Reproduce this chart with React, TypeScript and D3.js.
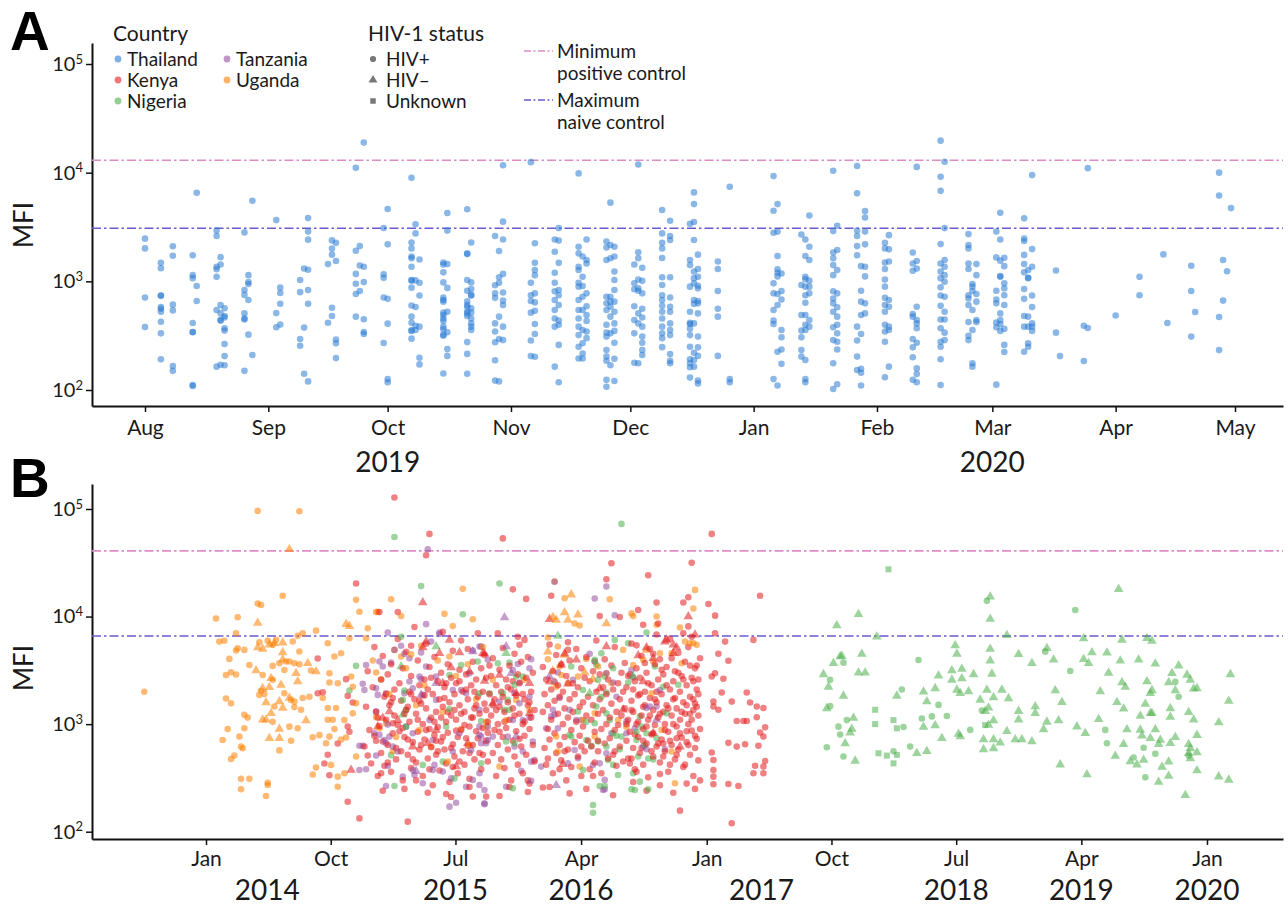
import React, { useRef, useEffect } from "react";
import * as d3 from "d3";

type Pt = [number, number];

// ---------- Panel A: Thailand, MFI per sampling day ----------
const thaiDates = [
  "2019-08-01", "2019-08-05", "2019-08-08", "2019-08-13", "2019-08-14", "2019-08-19", "2019-08-20", "2019-08-21",
  "2019-08-26", "2019-08-27", "2019-08-28", "2019-09-03", "2019-09-04", "2019-09-09", "2019-09-10", "2019-09-11",
  "2019-09-16", "2019-09-17", "2019-09-18", "2019-09-23", "2019-09-24", "2019-09-25", "2019-09-30", "2019-10-01",
  "2019-10-07", "2019-10-08", "2019-10-09", "2019-10-15", "2019-10-16", "2019-10-21", "2019-10-22", "2019-10-28",
  "2019-10-29", "2019-10-30", "2019-11-06", "2019-11-07", "2019-11-12", "2019-11-13", "2019-11-18", "2019-11-19",
  "2019-11-20", "2019-11-25", "2019-11-26", "2019-11-27", "2019-12-02", "2019-12-03", "2019-12-04", "2019-12-09",
  "2019-12-11", "2019-12-16", "2019-12-17", "2019-12-18", "2019-12-23", "2019-12-26", "2020-01-06", "2020-01-07",
  "2020-01-08", "2020-01-13", "2020-01-14", "2020-01-15", "2020-01-21", "2020-01-22", "2020-01-27", "2020-01-28",
  "2020-01-29", "2020-02-03", "2020-02-04", "2020-02-10", "2020-02-11", "2020-02-17", "2020-02-18", "2020-02-24",
  "2020-02-25", "2020-02-26", "2020-03-02", "2020-03-03", "2020-03-04", "2020-03-09", "2020-03-10", "2020-03-11",
  "2020-03-17", "2020-03-18", "2020-03-24", "2020-03-25", "2020-04-01", "2020-04-07", "2020-04-13", "2020-04-14",
  "2020-04-20", "2020-04-21", "2020-04-27", "2020-04-28", "2020-04-29", "2020-04-30",
];

const thaiMFI: number[][] = [
  [2470, 2010, 710, 380],
  [1480, 1320, 740, 735, 580, 560, 525, 425, 332, 192],
  [2100, 1720, 610, 540, 166, 150],
  [1740, 1140, 1070, 413, 342, 340, 111, 109],
  [6540, 905, 660],
  [2930, 2610, 1360, 1290, 1100, 545, 164],
  [1670, 1430, 605, 507, 440, 435, 171],
  [565, 480, 465, 370, 352, 265, 205, 169],
  [2820, 832, 750, 507, 455, 445, 150],
  [1140, 985, 945, 673, 323],
  [5520, 210],
  [3660, 510, 378],
  [875, 780, 622, 400],
  [1030, 795, 295, 255],
  [1310, 375, 141],
  [3820, 2870, 2420, 1280, 832, 622, 120],
  [1440, 416],
  [2380, 2000, 1760, 570, 480],
  [2260, 1540, 292, 269, 197],
  [11100, 1910, 1170, 950, 765, 473],
  [2110, 1400, 815],
  [18900, 1360, 985, 448, 342, 328],
  [3100, 1160, 1080, 710, 271],
  [4630, 2190, 690, 408, 126, 118],
  [8990, 2280, 2010, 1690, 1630, 1360, 1030, 1015, 875, 600, 473, 415, 355, 350, 297],
  [3350, 2760, 1020, 580, 390, 357],
  [1590, 970, 740, 383, 198, 172],
  [1490, 1430, 1210, 978, 710, 673, 650, 515, 490, 455, 432, 383, 362, 323, 316, 142],
  [4250, 2930, 1440, 870, 525, 340, 238, 206],
  [4600, 1800, 1790, 1030, 820, 655, 605, 584, 525, 507, 480, 276, 215, 141],
  [2280, 978, 850, 750, 740, 565, 515, 455, 410, 383, 357],
  [2610, 920, 775, 705, 410, 345, 275, 188, 122],
  [1900, 1090, 970, 473, 295, 120],
  [11700, 3540, 2430, 1170, 790, 665, 605, 383, 288],
  [12500, 970, 745, 660, 515, 285, 205],
  [2240, 1480, 1270, 1140, 775, 640, 535, 405, 328, 202],
  [2430, 1870, 1200, 970, 810, 673, 545, 455, 383, 164],
  [3090, 2370, 1480, 832, 745, 605, 435, 398, 260, 118],
  [9850, 2080, 1810, 1360, 1270, 970, 893, 673, 545, 455, 383, 320, 250, 195],
  [1690, 1100, 905, 722, 545, 357, 269, 217, 195],
  [2430, 1570, 1460, 775, 590, 490, 432, 345, 300],
  [2320, 2050, 1570, 722, 627, 545, 398, 337, 310, 233, 203, 186, 124, 107],
  [5300, 2160, 1630, 722, 650, 584, 473, 332, 169],
  [2080, 1690, 1230, 1030, 832, 650, 525, 410, 350, 272, 194, 121],
  [1430, 958, 845, 590, 440, 332, 178],
  [11900, 1850, 1630, 1040, 862, 820, 507, 410, 176],
  [1330, 1010, 775, 560, 465, 383, 310, 272, 233, 210],
  [4530, 2760, 2260, 2010, 1640, 1090, 925, 745, 673, 595, 525, 455, 383, 332, 300, 248],
  [3610, 2610, 2400, 1090, 710, 584, 525, 410, 357, 320, 214, 186, 176],
  [3380, 1570, 1410, 893, 525, 415, 405, 367, 320, 250, 192, 176, 162, 130],
  [6580, 5140, 3520, 2400, 1230, 1070, 958, 673, 620, 410, 220, 189, 164],
  [1760, 1300, 1100, 910, 862, 660, 627, 507, 310, 247, 206, 122, 115],
  [1520, 1300, 815, 560, 473, 206],
  [7420, 126, 118],
  [9300, 4460, 2800, 958, 775, 545, 435, 405, 126],
  [5140, 2870, 1710, 1290, 1200, 1110, 765, 605, 225, 110],
  [1180, 815, 680, 357, 305, 236, 174],
  [2700, 925, 490, 352, 305, 233, 203],
  [2430, 1710, 1100, 1045, 893, 745, 635, 490, 398, 357, 189, 126, 118],
  [4030, 2080, 1570, 1015, 893, 775, 440, 383],
  [10400, 2900, 1840, 1630, 1410, 1140, 810, 695, 627, 525, 378, 288, 176, 102],
  [3250, 1940, 1270, 775, 578, 473, 398, 332, 278, 236, 113],
  [11500, 6450, 2930, 2610, 2110, 1740, 383, 285, 203, 153],
  [1380, 820, 650, 490, 328, 157, 144, 110],
  [4430, 3870, 2870, 2190, 1360, 1110, 627, 507],
  [2260, 2010, 1490, 1300, 1040, 893, 705, 605, 525, 398, 345, 278, 131],
  [2660, 1970, 1520, 673, 584, 383, 357, 164],
  [1840, 1460, 1250, 500, 473, 295, 247, 200, 124],
  [11300, 1540, 1310, 584, 440, 410, 370, 272, 158, 140, 118],
  [19700, 9180, 6800, 2200, 1460, 1230, 1070, 880, 740, 595, 445, 370, 278, 250, 192, 111],
  [12600, 3090, 1570, 1360, 1140, 990, 722, 525, 445, 337, 288],
  [2720, 2160, 2010, 1460, 1300, 745, 695, 605, 422, 315, 288],
  [945, 893, 815, 545, 357, 176, 164],
  [1440, 1140, 765, 650, 440, 422],
  [2870, 1660, 820, 680, 627, 418, 378, 112],
  [4280, 2430, 1550, 1120, 1100, 507, 440, 405, 350],
  [1650, 1380, 958, 862, 745, 605, 365, 260, 224],
  [3800, 2480, 2350, 1750, 1440, 1210, 850, 690, 480, 383, 225],
  [1270, 1080, 1070, 473, 383, 269, 250],
  [9500, 1980, 1360, 740, 580, 410, 383, 350],
  [1260, 337],
  [205],
  [390, 185],
  [11000, 372],
  [485],
  [1100, 745],
  [1770],
  [413],
  [1390, 815, 310],
  [522],
  [10000, 6150, 470, 233],
  [1570, 665],
  [1240],
  [4720],
];

// ---------- Panel B: [sampling date as decimal year, MFI] ----------
const ugandaHivPos: Pt[] = [
  [2013.63, 2000], [2014.06, 9600], [2014.08, 5850], [2014.11, 5960], [2014.19, 9870], [2014.18, 7000], [2014.18, 4830],
  [2014.19, 5080], [2014.23, 4900], [2014.14, 4040], [2014.26, 3550], [2014.12, 2860], [2014.15, 3040], [2014.18, 2890],
  [2014.12, 1730], [2014.15, 1560], [2014.23, 1220], [2014.25, 1150], [2014.13, 900], [2014.10, 713], [2014.20, 766],
  [2014.23, 915], [2014.21, 618], [2014.22, 596], [2014.17, 510], [2014.15, 474], [2014.21, 310], [2014.26, 310],
  [2014.21, 248], [2014.37, 285], [2014.37, 272], [2014.36, 215], [2014.31, 13200], [2014.33, 12800], [2014.46, 15600],
  [2014.31, 96000], [2014.56, 95300], [2014.32, 5770], [2014.37, 5960], [2014.40, 5460], [2014.42, 6070], [2014.52, 5850],
  [2014.55, 6620], [2014.58, 7000], [2014.56, 4730], [2014.44, 3680], [2014.40, 3480], [2014.50, 3820], [2014.48, 3820],
  [2014.53, 3680], [2014.56, 3600], [2014.63, 3150], [2014.66, 7400], [2014.34, 2860], [2014.40, 2580], [2014.47, 3190],
  [2014.33, 2040], [2014.35, 1910], [2014.32, 1870], [2014.47, 1940], [2014.51, 1680], [2014.53, 1620], [2014.58, 1750],
  [2014.62, 1800], [2014.41, 1460], [2014.53, 1440], [2014.57, 1360], [2014.40, 1050], [2014.50, 948], [2014.55, 915],
  [2014.51, 700], [2014.44, 570], [2014.64, 755], [2014.73, 5650], [2014.77, 4250], [2014.81, 4560], [2014.74, 2970],
  [2014.74, 2440], [2014.79, 2400], [2014.70, 1750], [2014.73, 1410], [2014.78, 1410], [2014.73, 1100], [2014.76, 1100],
  [2014.77, 900], [2014.83, 1090], [2014.88, 1260], [2014.81, 720], [2014.84, 750], [2014.68, 790], [2014.74, 766],
  [2014.72, 664], [2014.90, 500], [2014.66, 395], [2014.64, 340], [2014.75, 418], [2014.79, 325], [2014.83, 349],
  [2014.79, 262], [2014.86, 6290], [2014.96, 6290], [2014.90, 14300], [2014.92, 11100], [2015.02, 11000], [2015.03, 11100],
  [2015.11, 14500], [2015.17, 10100], [2015.02, 3020], [2015.13, 4900], [2015.17, 4250], [2015.23, 4450], [2015.29, 5350],
  [2015.43, 10600], [2015.48, 8150], [2015.54, 18100], [2015.60, 9450], [2015.46, 4250], [2014.88, 2230], [2014.87, 2770],
  [2014.90, 1560], [2015.02, 1160], [2015.08, 1020], [2015.04, 915], [2015.05, 2600], [2015.10, 1900], [2015.14, 760],
  [2015.20, 3300], [2015.26, 1500], [2015.31, 2300], [2015.35, 620], [2015.39, 3900], [2015.42, 1300], [2015.50, 2800],
  [2015.53, 900], [2015.57, 3600], [2015.62, 1700], [2015.66, 5200], [2015.12, 560], [2015.28, 880], [2015.45, 450],
  [2015.58, 640], [2015.68, 1050], [2014.97, 7800], [2015.00, 3900], [2016.15, 14800], [2016.09, 21200], [2016.21, 8620],
  [2016.42, 14500], [2016.24, 8270], [2016.05, 6400], [2016.05, 4010], [2016.11, 5260], [2016.12, 3430], [2016.13, 2860],
  [2016.17, 2400], [2016.10, 2230], [2016.23, 2770], [2016.28, 4040], [2016.33, 3820], [2016.35, 3430], [2016.40, 2970],
  [2016.43, 2400], [2016.50, 4900], [2016.55, 10700], [2016.56, 10100], [2016.70, 10000], [2016.70, 8400], [2016.84, 7900],
  [2016.85, 3680], [2016.90, 5650], [2016.92, 5650], [2016.92, 11900], [2016.93, 17700], [2016.94, 5460], [2016.87, 5850],
  [2016.62, 3960], [2016.56, 3550], [2016.72, 4560], [2016.68, 3820], [2016.79, 4560], [2016.67, 1940], [2016.10, 766],
  [2016.11, 556], [2016.26, 1090], [2016.33, 1260], [2016.33, 766], [2016.47, 1090], [2016.52, 948], [2016.73, 884],
  [2016.79, 556], [2016.81, 282], [2016.24, 403], [2015.68, 948], [2015.80, 1090], [2015.86, 1680], [2015.91, 2580],
  [2015.94, 1360], [2015.76, 403], [2015.72, 2580],
];

const ugandaHivNeg: Pt[] = [
  [2014.50, 42300], [2014.31, 8700], [2014.31, 5150], [2014.34, 4990], [2014.38, 5460], [2014.41, 5650], [2014.46, 5720],
  [2014.46, 4640], [2014.46, 3960], [2014.61, 3680], [2014.66, 3080], [2014.30, 3150], [2014.39, 2670], [2014.54, 2970],
  [2014.55, 2490], [2014.45, 2310], [2014.38, 2200], [2014.34, 2150], [2014.50, 1750], [2014.36, 1590], [2014.44, 1620],
  [2014.46, 1410], [2014.39, 1260], [2014.36, 1100], [2014.34, 1100], [2014.60, 1080], [2014.44, 900], [2014.44, 740],
  [2014.38, 740], [2014.84, 8500], [2014.86, 8150], [2016.19, 16000], [2016.08, 9870], [2016.10, 9300], [2016.15, 10900],
  [2016.17, 9300], [2016.23, 10400], [2016.40, 8620], [2016.05, 4700], [2016.15, 4400], [2016.09, 2440], [2016.27, 3020],
  [2016.08, 3130], [2016.32, 2620], [2016.64, 4900],
];

const kenyaHivPos: Pt[] = [
  [2014.67, 4070], [2014.70, 1980], [2014.67, 1940], [2014.84, 2620], [2014.85, 1830], [2014.88, 1590], [2014.85, 950],
  [2014.86, 850], [2014.79, 660], [2014.73, 520], [2014.71, 430], [2014.74, 335], [2014.85, 190], [2014.92, 133],
  [2014.90, 20300], [2015.04, 11000], [2015.15, 11000], [2015.23, 5350], [2015.34, 58700], [2015.13, 128000],
  [2015.32, 37200], [2015.21, 124], [2015.44, 224], [2015.60, 212],
  // 2015 cluster
  [2014.95, 620], [2014.96, 1450], [2014.97, 3100], [2014.98, 880], [2014.99, 430], [2015.00, 2200], [2015.01, 5200],
  [2015.02, 700], [2015.02, 1300], [2015.03, 330], [2015.04, 960], [2015.05, 2600], [2015.05, 540], [2015.06, 4300],
  [2015.07, 1800], [2015.07, 410], [2015.08, 1100], [2015.09, 2900], [2015.09, 640], [2015.10, 1500], [2015.11, 360],
  [2015.11, 3600], [2015.12, 820], [2015.13, 2100], [2015.13, 1200], [2015.14, 470], [2015.15, 6200], [2015.15, 980],
  [2015.16, 2400], [2015.17, 560], [2015.17, 1650], [2015.18, 300], [2015.18, 3300], [2015.19, 760], [2015.20, 1350],
  [2015.20, 4700], [2015.21, 520], [2015.22, 2000], [2015.22, 1050], [2015.23, 390], [2015.23, 2800], [2015.24, 680],
  [2015.25, 1700], [2015.25, 8000], [2015.26, 440], [2015.26, 1250], [2015.27, 3900], [2015.27, 850], [2015.28, 2300],
  [2015.28, 580], [2015.29, 1550], [2015.30, 330], [2015.30, 1000], [2015.31, 2600], [2015.31, 720], [2015.32, 5600],
  [2015.32, 1400], [2015.33, 480], [2015.33, 2100], [2015.34, 900], [2015.34, 3400], [2015.35, 610], [2015.35, 1150],
  [2015.36, 270], [2015.36, 1900], [2015.37, 790], [2015.37, 4200], [2015.38, 1300], [2015.38, 520], [2015.39, 2500],
  [2015.39, 940], [2015.40, 1700], [2015.40, 370], [2015.41, 3000], [2015.41, 690], [2015.42, 1450], [2015.42, 7200],
  [2015.43, 580], [2015.43, 2200], [2015.44, 1050], [2015.44, 430], [2015.45, 3600], [2015.45, 830], [2015.46, 1600],
  [2015.46, 290], [2015.47, 2700], [2015.47, 1200], [2015.48, 650], [2015.48, 4800], [2015.49, 1900], [2015.49, 500],
  [2015.50, 1100], [2015.50, 2400], [2015.51, 760], [2015.51, 350], [2015.52, 3200], [2015.52, 1500], [2015.53, 880],
  [2015.53, 6000], [2015.54, 560], [2015.54, 2000], [2015.55, 1300], [2015.55, 420], [2015.56, 2900], [2015.56, 740],
  [2015.57, 1700], [2015.57, 5000], [2015.58, 950], [2015.58, 310], [2015.59, 2300], [2015.59, 1150], [2015.60, 640],
  [2015.60, 3800], [2015.61, 1400], [2015.61, 470], [2015.62, 2600], [2015.62, 860], [2015.63, 1800], [2015.63, 7000],
  [2015.64, 540], [2015.64, 1250], [2015.65, 3300], [2015.65, 380], [2015.66, 2000], [2015.66, 920], [2015.67, 1550],
  [2015.67, 4400], [2015.68, 700], [2015.68, 2700], [2015.69, 1050], [2015.69, 450], [2015.70, 1900], [2015.70, 3500],
  [2015.06, 240], [2015.19, 250], [2015.33, 230], [2015.47, 210], [2015.58, 260], [2015.12, 1750], [2015.28, 1650],
  [2015.41, 1150], [2015.53, 1250], [2015.35, 2700], [2015.49, 1350], [2015.62, 1500], [2015.21, 1450], [2015.08, 1900],
  [2015.44, 2400], [2015.56, 2100], [2015.31, 1850],
  [2014.97, 510], [2015.01, 780], [2015.03, 1150], [2015.06, 690], [2015.09, 440], [2015.12, 1020], [2015.14, 600],
  [2015.16, 860], [2015.19, 1250], [2015.21, 720], [2015.24, 470], [2015.27, 1100], [2015.29, 640], [2015.32, 880],
  [2015.34, 380], [2015.37, 1050], [2015.39, 560], [2015.42, 760], [2015.45, 1300], [2015.47, 600], [2015.50, 870],
  [2015.52, 450], [2015.55, 980], [2015.57, 630], [2015.60, 1150], [2015.63, 740], [2015.66, 520], [2015.69, 830],
  [2015.05, 350], [2015.18, 920], [2015.26, 300], [2015.38, 700], [2015.48, 400], [2015.58, 540], [2015.68, 1350],
  [2015.11, 1600], [2015.23, 1900], [2015.43, 1750], [2015.61, 2000], [2015.52, 2500],
  [2015.71, 1200], [2015.71, 2800], [2015.72, 540], [2015.72, 4100], [2015.73, 880], [2015.73, 1700], [2015.74, 330],
  [2015.74, 2300], [2015.75, 1000], [2015.75, 640], [2015.76, 3200], [2015.76, 1450], [2015.77, 470], [2015.77, 2000],
  [2015.78, 760], [2015.78, 5100], [2015.79, 1300], [2015.79, 390], [2015.80, 2600], [2015.80, 920], [2015.81, 1600],
  [2015.81, 580], [2015.82, 3500], [2015.82, 1100], [2015.83, 300], [2015.83, 2100], [2015.84, 700], [2015.84, 1400],
  [2015.85, 4500], [2015.85, 500], [2015.86, 1850], [2015.86, 860], [2015.87, 2900], [2015.87, 420], [2015.88, 1250],
  [2015.88, 2400], [2015.89, 620], [2015.89, 3800], [2015.90, 1000], [2015.90, 350], [2015.91, 1700], [2015.91, 780],
  [2015.92, 2700], [2015.92, 520], [2015.93, 1500], [2015.93, 4200], [2015.94, 900], [2015.94, 280], [2015.95, 2000],
  [2015.95, 1150], [2015.96, 640], [2015.96, 3000], [2015.97, 1350], [2015.97, 450], [2015.72, 1500], [2015.78, 1800],
  [2015.84, 2500], [2015.90, 1900], [2015.75, 7000], [2015.87, 6500], [2015.82, 260], [2015.93, 300], [2015.79, 1050],
  [2015.85, 1200], [2015.76, 850], [2015.88, 730], [2015.81, 2200], [2015.94, 1600], [2015.74, 1350], [2015.91, 1050],
  // 2016 cluster
  [2016.02, 1300], [2016.02, 3400], [2016.03, 600], [2016.03, 1900], [2016.04, 420], [2016.04, 2600], [2016.05, 900],
  [2016.05, 1500], [2016.06, 5500], [2016.06, 720], [2016.07, 2100], [2016.07, 1100], [2016.08, 350], [2016.08, 3100],
  [2016.09, 820], [2016.09, 1650], [2016.10, 4400], [2016.10, 540], [2016.11, 1250], [2016.11, 2300], [2016.12, 640],
  [2016.12, 1800], [2016.13, 3600], [2016.13, 460], [2016.14, 1000], [2016.14, 2000], [2016.15, 760], [2016.15, 1400],
  [2016.16, 300], [2016.16, 2800], [2016.17, 1150], [2016.17, 580], [2016.18, 1700], [2016.18, 3900], [2016.19, 880],
  [2016.19, 400], [2016.20, 2400], [2016.20, 1300], [2016.21, 680], [2016.21, 1900], [2016.22, 5000], [2016.22, 1050],
  [2016.23, 500], [2016.23, 2200], [2016.24, 780], [2016.24, 1450], [2016.25, 3300], [2016.25, 330], [2016.26, 1600],
  [2016.26, 950], [2016.27, 2700], [2016.27, 560], [2016.28, 1200], [2016.28, 4200], [2016.29, 700], [2016.29, 1800],
  [2016.30, 380], [2016.30, 2500], [2016.31, 1100], [2016.31, 620], [2016.32, 3100], [2016.32, 1500], [2016.33, 850],
  [2016.33, 440], [2016.34, 2000], [2016.34, 6000], [2016.35, 1250], [2016.35, 560], [2016.36, 1700], [2016.36, 2900],
  [2016.37, 900], [2016.37, 350], [2016.38, 2200], [2016.38, 1350], [2016.39, 660], [2016.39, 4000], [2016.40, 1000],
  [2016.40, 1900], [2016.41, 480], [2016.41, 2600], [2016.42, 1150], [2016.42, 740], [2016.43, 3500], [2016.43, 1550],
  [2016.44, 520], [2016.44, 2100], [2016.45, 880], [2016.45, 5200], [2016.46, 1300], [2016.46, 410], [2016.47, 2400],
  [2016.47, 980], [2016.48, 1700], [2016.48, 620], [2016.49, 3000], [2016.49, 1200], [2016.50, 450], [2016.50, 2000],
  [2016.06, 260], [2016.28, 250], [2016.05, 480], [2016.15, 560], [2016.25, 620], [2016.35, 700], [2016.45, 560],
  [2016.12, 380], [2016.32, 330],
  [2016.51, 1400], [2016.51, 3700], [2016.52, 700], [2016.52, 2200], [2016.53, 480], [2016.53, 1100], [2016.54, 2900],
  [2016.54, 850], [2016.55, 1650], [2016.55, 5600], [2016.56, 600], [2016.56, 1300], [2016.57, 2500], [2016.57, 380],
  [2016.58, 1000], [2016.58, 3300], [2016.59, 760], [2016.59, 1850], [2016.60, 540], [2016.60, 2700], [2016.61, 1200],
  [2016.61, 4300], [2016.62, 900], [2016.62, 420], [2016.63, 2000], [2016.63, 1500], [2016.64, 660], [2016.64, 3000],
  [2016.65, 1100], [2016.65, 320], [2016.66, 1750], [2016.66, 5000], [2016.67, 800], [2016.67, 2300], [2016.68, 1350],
  [2016.68, 500], [2016.69, 3600], [2016.69, 980], [2016.70, 1600], [2016.70, 620], [2016.71, 2600], [2016.71, 1150],
  [2016.72, 440], [2016.72, 4000], [2016.73, 1900], [2016.73, 720], [2016.74, 1300], [2016.74, 2900], [2016.75, 560],
  [2016.75, 1000], [2016.76, 3400], [2016.76, 1500], [2016.77, 850], [2016.77, 360], [2016.78, 2100], [2016.78, 6200],
  [2016.79, 1200], [2016.79, 640], [2016.80, 2500], [2016.80, 1700], [2016.81, 470], [2016.81, 3100], [2016.82, 950],
  [2016.82, 1400], [2016.83, 4600], [2016.83, 580], [2016.84, 2000], [2016.84, 1100], [2016.85, 750], [2016.85, 2800],
  [2016.86, 1600], [2016.86, 400], [2016.87, 3800], [2016.87, 1250], [2016.88, 680], [2016.88, 2300], [2016.89, 1000],
  [2016.89, 5200], [2016.90, 520], [2016.90, 1800], [2016.91, 2700], [2016.91, 870], [2016.92, 1350], [2016.92, 330],
  [2016.93, 3300], [2016.93, 1550], [2016.94, 730], [2016.94, 2100], [2016.95, 460], [2016.95, 1200], [2016.96, 4100],
  [2016.96, 900], [2016.95, 1900], [2016.94, 1450], [2016.93, 600], [2016.92, 2500], [2016.91, 1100], [2016.90, 3500],
  [2016.89, 640], [2016.88, 1500], [2016.87, 420], [2016.86, 2600], [2016.85, 1300], [2016.84, 820], [2016.83, 3000],
  [2016.82, 520], [2016.81, 1750], [2016.80, 1000], [2016.79, 4100], [2016.78, 700], [2016.77, 1400], [2016.76, 2300],
  [2016.75, 880], [2016.74, 500], [2016.73, 3200], [2016.72, 1250], [2016.71, 660], [2016.70, 2000], [2016.69, 1700],
  [2016.68, 4500], [2016.67, 560], [2016.66, 1200], [2016.65, 2400], [2016.64, 950], [2016.63, 3700], [2016.62, 1450],
  [2016.61, 600], [2016.60, 1900], [2016.59, 1050], [2016.58, 5400], [2016.57, 800], [2016.56, 2100], [2016.55, 1350],
  [2016.54, 430], [2016.53, 2800], [2016.52, 1000], [2016.96, 300], [2016.93, 250], [2016.88, 280], [2016.80, 230],
  [2016.72, 270], [2016.64, 240], [2016.56, 290], [2016.91, 6500], [2016.86, 7000], [2016.70, 6800], [2016.95, 2600],
  [2016.94, 3500], [2016.92, 1700], [2016.90, 1250], [2016.55, 480], [2016.62, 700], [2016.68, 820], [2016.74, 660],
  [2016.82, 740], [2016.88, 860], [2016.93, 780], [2016.58, 360], [2016.78, 420],
  // high and low outliers
  [2015.78, 53300], [2015.84, 17900], [2015.92, 14600], [2016.07, 15600], [2016.43, 31300], [2016.40, 22200],
  [2016.65, 24200], [2016.91, 31700], [2016.89, 15100], [2016.86, 13500], [2016.70, 13500], [2016.59, 11500],
  [2016.36, 10100], [2016.48, 9900], [2016.62, 8400], [2016.71, 8600], [2016.89, 8100], [2015.88, 5460], [2015.91, 6070],
  [2016.17, 5770], [2016.17, 4900], [2016.84, 157], [2016.72, 343], [2016.44, 218], [2016.18, 227], [2016.02, 258],
  [2015.93, 234], [2015.76, 215], [2015.68, 212],
  // 2017
  [2017.01, 13100], [2017.05, 10200], [2017.05, 7000], [2017.11, 5850], [2017.13, 3890], [2017.07, 4510], [2017.03, 2770],
  [2017.05, 2970], [2017.10, 2640], [2017.04, 1620], [2017.04, 1460], [2017.07, 1360], [2017.09, 1970], [2017.15, 1620],
  [2017.24, 1970], [2017.26, 1590], [2017.30, 1460], [2017.34, 1410], [2017.18, 1070], [2017.22, 1070], [2017.24, 1070],
  [2017.30, 1160], [2017.35, 935], [2017.32, 835], [2017.34, 766], [2017.31, 630], [2017.35, 455], [2017.34, 403],
  [2017.29, 410], [2017.28, 349], [2017.34, 349], [2017.13, 670], [2017.18, 618], [2017.23, 650], [2017.03, 545],
  [2017.04, 464], [2017.04, 375], [2017.04, 325], [2017.04, 276], [2017.13, 278], [2017.19, 266], [2017.15, 120],
  [2017.32, 15600], [2017.28, 6070], [2017.03, 58700],
];

const kenyaHivNeg: Pt[] = [
  [2014.87, 375], [2015.30, 13500], [2015.30, 5150], [2015.32, 5850], [2015.46, 6070], [2015.40, 4560], [2015.52, 4640],
  [2015.47, 3360], [2015.58, 3080], [2015.66, 4560], [2015.42, 2400], [2015.38, 884], [2015.50, 403], [2015.57, 664],
  [2015.33, 664], [2015.24, 618], [2015.06, 1140], [2015.03, 948], [2015.15, 1090], [2015.10, 1310], [2015.67, 4510],
  [2015.76, 2860], [2015.67, 2520], [2015.72, 1560], [2015.94, 2400], [2015.94, 1260], [2015.86, 1940], [2016.06, 9450],
  [2016.13, 3550], [2016.15, 4510], [2016.14, 425], [2016.17, 2370], [2016.22, 3960], [2016.40, 5260], [2016.62, 2490],
  [2016.59, 4340], [2016.64, 5150], [2016.68, 4100], [2016.75, 5850], [2016.76, 6070], [2016.80, 5460], [2016.82, 5150],
  [2016.80, 4560], [2016.89, 10000], [2016.93, 6770], [2016.06, 2490], [2016.36, 2150], [2016.50, 1360], [2016.68, 823],
  [2016.84, 618],
];

const tanzaniaHivPos: Pt[] = [
  [2015.09, 7100], [2015.32, 8500], [2015.33, 42300], [2014.96, 3550], [2015.04, 3820], [2015.06, 3430], [2015.11, 3740],
  [2015.13, 4900], [2015.17, 5350], [2015.19, 4500], [2015.22, 4090], [2015.22, 2490], [2015.24, 2150], [2015.29, 4640],
  [2015.32, 3430], [2015.40, 6880], [2015.35, 5850], [2015.40, 7100], [2015.60, 4830], [2015.65, 5260], [2015.69, 3960],
  [2015.65, 766], [2015.69, 948], [2014.94, 2370], [2014.95, 2080], [2015.02, 2150], [2015.03, 1870], [2015.08, 1940],
  [2015.19, 1940], [2015.29, 2620], [2015.30, 1870], [2015.38, 2770], [2015.48, 2080], [2015.53, 2080], [2015.56, 1940],
  [2015.64, 1360], [2015.02, 1310], [2015.09, 990], [2015.10, 766], [2015.01, 823], [2015.04, 795], [2015.07, 713],
  [2015.12, 618], [2015.15, 556], [2015.08, 664], [2015.02, 510], [2015.09, 410], [2015.08, 266], [2015.18, 325],
  [2015.24, 375], [2015.25, 337], [2015.30, 282], [2015.36, 375], [2015.37, 418], [2015.42, 362], [2015.47, 313],
  [2015.50, 186], [2015.46, 171], [2015.56, 262], [2015.60, 303], [2015.64, 272], [2015.67, 184], [2014.92, 375],
  [2014.96, 381], [2014.92, 630], [2014.94, 630], [2015.36, 713], [2015.48, 556], [2015.59, 575], [2015.52, 823],
  [2015.20, 948], [2015.24, 823], [2015.34, 1090], [2015.38, 1680], [2015.69, 713], [2015.58, 2970], [2015.64, 948],
  [2015.28, 2770], [2016.09, 21100], [2016.40, 19000], [2016.33, 14700], [2016.45, 10300], [2015.64, 5260],
  [2015.95, 4010], [2015.94, 3310], [2015.84, 3190], [2015.88, 2440], [2015.87, 3620], [2015.85, 1940], [2015.76, 1620],
  [2015.94, 1800], [2015.88, 1560], [2015.84, 1090], [2015.90, 1090], [2015.94, 1150], [2015.81, 766], [2015.72, 766],
  [2015.65, 664], [2015.68, 664], [2015.85, 618], [2015.90, 556], [2015.95, 448], [2015.89, 369], [2015.95, 298],
  [2015.80, 262], [2015.67, 244], [2015.67, 180], [2016.09, 2490], [2016.11, 3020], [2016.12, 1750], [2016.08, 1360],
  [2016.09, 1220], [2016.11, 915], [2016.18, 1360], [2016.22, 1090], [2016.25, 1090], [2016.20, 2580], [2016.30, 4500],
  [2016.33, 3820], [2016.40, 2970], [2016.44, 2440], [2016.46, 1800], [2016.55, 3190], [2016.56, 2720], [2016.72, 2080],
  [2016.70, 1460], [2016.66, 1460], [2016.64, 1410], [2016.57, 915], [2016.52, 1060], [2016.43, 823], [2016.40, 536],
  [2016.36, 432], [2016.32, 418], [2016.23, 482], [2016.21, 575], [2016.17, 432], [2016.39, 303], [2016.39, 248],
  [2016.38, 244], [2016.62, 618], [2016.64, 585], [2016.75, 585], [2016.52, 823], [2015.96, 690], [2015.97, 464],
  [2016.01, 403], [2016.04, 915], [2016.07, 1180], [2015.64, 795], [2015.64, 349],
];

const tanzaniaHivNeg: Pt[] = [
  [2015.26, 365], [2015.29, 1870], [2015.60, 4730], [2015.79, 9800], [2015.80, 5260], [2015.83, 2970], [2015.86, 766],
  [2016.06, 2770], [2016.10, 270], [2015.38, 2400], [2016.70, 1100],
];

const nigeriaHivPos: Pt[] = [
  [2015.13, 55000], [2015.29, 19200], [2015.54, 10500], [2015.17, 6500], [2014.90, 3480], [2014.86, 2050], [2015.19, 2050],
  [2015.18, 1680], [2015.20, 1360], [2015.46, 1380], [2015.53, 3550], [2015.63, 3820], [2015.65, 1070], [2015.44, 948],
  [2015.65, 432], [2015.11, 515], [2015.13, 266], [2015.20, 948], [2015.49, 313], [2015.30, 418], [2015.42, 448],
  [2015.46, 2860], [2016.49, 72700], [2015.76, 20300], [2016.64, 7100], [2016.45, 6070], [2016.53, 5650], [2016.37, 4560],
  [2016.34, 3550], [2016.33, 3960], [2016.44, 3310], [2016.39, 2770], [2016.35, 2580], [2016.40, 1970], [2016.37, 1800],
  [2016.34, 1460], [2016.40, 1260], [2016.42, 1090], [2016.44, 823], [2016.33, 1020], [2016.28, 1050], [2016.28, 713],
  [2016.31, 630], [2016.35, 690], [2016.40, 618], [2016.46, 780], [2016.49, 766], [2016.48, 585], [2016.41, 464],
  [2016.44, 418], [2016.60, 1180], [2016.58, 850], [2016.61, 948], [2016.58, 713], [2016.64, 823], [2016.68, 470],
  [2016.65, 480], [2016.59, 500], [2016.63, 640], [2016.56, 349], [2016.60, 292], [2016.55, 248], [2016.57, 244],
  [2016.65, 248], [2016.47, 337], [2016.36, 266], [2016.39, 266], [2016.32, 177], [2016.32, 150], [2015.85, 2320],
  [2015.86, 2770], [2015.90, 2770], [2015.82, 3740], [2015.75, 3680], [2015.80, 690], [2015.85, 664], [2015.84, 253],
  [2015.79, 1360], [2015.81, 1680], [2015.82, 1360], [2015.78, 1940], [2015.70, 1940], [2015.64, 1940], [2016.19, 766],
  [2016.18, 795], [2016.69, 3430], [2016.74, 2230], [2016.76, 1260], [2016.70, 740], [2016.83, 2320], [2016.53, 2440],
  [2016.23, 1310], [2016.19, 3430], [2016.26, 375], [2016.26, 2080],
  // 2017-2020
  [2017.82, 3730], [2017.79, 948], [2017.80, 800], [2017.84, 1090], [2017.72, 610], [2017.82, 500], [2017.74, 2580],
  [2017.74, 1470], [2018.27, 3940], [2018.17, 2100], [2018.18, 940], [2018.12, 560], [2018.22, 618], [2018.29, 1130],
  [2018.35, 1180], [2018.44, 1190], [2018.39, 1510], [2018.58, 884], [2018.65, 1340], [2018.68, 14000], [2019.03, 4720],
  [2019.18, 3120], [2019.21, 11500], [2019.39, 884], [2019.40, 664], [2019.56, 490], [2019.62, 604], [2019.69, 530],
  [2019.63, 320], [2019.81, 2470], [2019.83, 1800], [2019.89, 510],
];

const nigeriaHivNeg: Pt[] = [
  [2015.38, 5260], [2015.18, 1220], [2015.17, 3430], [2016.11, 6600], [2015.80, 4560], [2016.56, 2770], [2016.30, 1940],
  [2017.70, 2900], [2017.72, 1400], [2017.73, 2220], [2017.76, 3680], [2017.80, 4250], [2017.81, 4300], [2017.82, 1830],
  [2017.86, 830], [2017.88, 1140], [2017.78, 8270], [2017.91, 10500], [2017.93, 4480], [2017.91, 3000], [2017.95, 3000],
  [2017.83, 660], [2017.89, 455], [2018.02, 6500], [2017.87, 900], [2018.14, 1830], [2018.26, 536], [2018.32, 560],
  [2018.30, 2000], [2018.32, 1620], [2018.37, 2150], [2018.39, 2820], [2018.37, 970], [2018.30, 940], [2018.41, 740],
  [2018.47, 3150], [2018.47, 2580], [2018.49, 5380], [2018.50, 4500], [2018.53, 3250], [2018.53, 2660], [2018.50, 2080],
  [2018.52, 1940], [2018.57, 2010], [2018.60, 2900], [2018.51, 810], [2018.52, 766], [2018.64, 1680], [2018.67, 1320],
  [2018.69, 1420], [2018.68, 2080], [2018.70, 15300], [2018.70, 9500], [2018.70, 5000], [2018.70, 3890], [2018.71, 2930],
  [2018.72, 1770], [2018.72, 1080], [2018.69, 980], [2018.66, 720], [2018.66, 580], [2018.72, 720], [2018.72, 595],
  [2018.77, 2080], [2018.81, 1730], [2018.80, 6700], [2018.76, 670], [2018.80, 860], [2018.87, 4460], [2018.87, 1320],
  [2018.87, 1100], [2018.85, 720], [2018.89, 720], [2018.95, 3680], [2018.95, 690], [2018.97, 1460], [2018.97, 1260],
  [2019.02, 890], [2019.04, 1050], [2019.04, 5080], [2019.08, 3960], [2019.09, 2050], [2019.11, 1080], [2019.13, 1600],
  [2019.12, 420], [2019.22, 948], [2019.26, 4010], [2019.26, 6240], [2019.27, 823], [2019.28, 340], [2019.29, 3680],
  [2019.31, 4640], [2019.35, 1110], [2019.36, 2010], [2019.40, 4600], [2019.41, 2990], [2019.47, 18000], [2019.48, 3890],
  [2019.49, 6070], [2019.49, 2440], [2019.51, 2210], [2019.46, 1600], [2019.50, 1390], [2019.52, 890], [2019.50, 650],
  [2019.45, 505], [2019.54, 450], [2019.58, 420], [2019.59, 3970], [2019.60, 1190], [2019.60, 884], [2019.61, 780],
  [2019.62, 464], [2019.63, 1540], [2019.64, 2490], [2019.66, 1940], [2019.67, 2060], [2019.64, 6280], [2019.67, 5940],
  [2019.69, 3640], [2019.66, 1260], [2019.67, 1260], [2019.69, 890], [2019.66, 740], [2019.72, 713], [2019.71, 650],
  [2019.73, 400], [2019.71, 290], [2019.77, 330], [2019.77, 447], [2019.78, 664], [2019.78, 1165], [2019.78, 1400],
  [2019.79, 2970], [2019.77, 2440], [2019.81, 2060], [2019.81, 755], [2019.83, 3500], [2019.88, 2870], [2019.89, 1290],
  [2019.90, 2580], [2019.92, 2130], [2019.94, 2150], [2019.92, 1100], [2019.94, 790], [2019.89, 650], [2019.90, 595],
  [2019.89, 536], [2019.94, 545], [2019.90, 480], [2019.94, 370], [2019.87, 218], [2020.07, 1035], [2020.07, 325],
  [2020.13, 1640], [2020.14, 2900], [2020.13, 303],
];

const nigeriaUnknown: Pt[] = [
  [2018.09, 27500], [2018.01, 1360], [2018.01, 1000], [2018.12, 1090], [2018.14, 915], [2018.03, 536], [2018.08, 510],
  [2018.14, 518], [2018.12, 432], [2018.67, 980],
];

// control thresholds (MFI)
const controlA = { minPositive: 13000, maxNaive: 3080 };
const controlB = { minPositive: 40800, maxNaive: 6600 };

// legend + tick labels
const countries = ["Thailand", "Kenya", "Nigeria", "Tanzania", "Uganda"];
const statuses = ["HIV+", "HIV\u2013", "Unknown"];
const controlLabels = [["Minimum", "positive control"], ["Maximum", "naive control"]];
const decadeTicks = [100, 1000, 10000, 100000];
const monthTicksA = [
  "2019-08-01", "2019-09-01", "2019-10-01", "2019-11-01", "2019-12-01",
  "2020-01-01", "2020-02-01", "2020-03-01", "2020-04-01", "2020-05-01",
];
const yearLabelsA = [["2019", "2019-10-01"], ["2020", "2020-03-01"]];
const ticksB = [
  "2014-01-01", "2014-10-01", "2015-07-01", "2016-04-01", "2017-01-01",
  "2017-10-01", "2018-07-01", "2019-04-01", "2020-01-01",
];
const yearLabelsB = [
  ["2014", "2014-05-15"], ["2015", "2015-07-01"], ["2016", "2016-04-01"], ["2017", "2017-05-01"],
  ["2018", "2018-07-01"], ["2019", "2019-04-01"], ["2020", "2020-01-01"],
];

const W = 1288;
const H = 905;
const FONT = "Lato, 'Open Sans', 'DejaVu Sans', sans-serif";
const PINK = "#de8cc6";
const SLATE = "#6a5acd";
const DASH = "9,3,2.5,3";
const ALPHA = 0.55;
const colorOf: Record<string, string> = {
  Thailand: "#2b7bd4",
  Kenya: "#e41a1c",
  Nigeria: "#4daf4a",
  Tanzania: "#984ea3",
  Uganda: "#ff7f00",
};

export default function App() {
  const svgRef = useRef<SVGSVGElement>(null);

  useEffect(() => {
    document.body.style.margin = "0";
    const svg = d3.select(svgRef.current);
    svg.selectAll("*").remove();
    svg.attr("width", W).attr("height", H).style("font-family", FONT).style("display", "block");

    const parse = (s: string) => d3.timeParse("%Y-%m-%d")(s) as Date;
    const fromYear = (y: number) => {
      const yr = Math.floor(y);
      const a = new Date(yr, 0, 1).getTime();
      const b = new Date(yr + 1, 0, 1).getTime();
      return new Date(a + (y - yr) * (b - a));
    };

    // scales anchored on tick positions, then stretched out to the plot frame
    const xAref = d3.scaleTime().domain([parse("2019-08-01"), parse("2020-05-01")]).range([145, 1235]);
    const xA = d3.scaleTime().domain([xAref.invert(92), xAref.invert(1283)]).range([92, 1283]);
    const yAref = d3.scaleLog().domain([100, 100000]).range([390, 64]);
    const yA = d3.scaleLog().domain([yAref.invert(406), yAref.invert(43)]).range([406, 43]);

    const xBref = d3.scaleTime().domain([parse("2014-01-01"), parse("2020-01-01")]).range([206, 1207]);
    const xB = d3.scaleTime().domain([xBref.invert(92), xBref.invert(1283)]).range([92, 1283]);
    const yBref = d3.scaleLog().domain([100, 100000]).range([831.7, 509]);
    const yB = d3.scaleLog().domain([yBref.invert(839), yBref.invert(484)]).range([839, 484]);

    const drawAxes = (x: any, y: any, ticks: string[], years: string[][], pad: number, yearY: number) => {
      const [yb] = y.range();
      const gx = svg.append("g")
        .attr("transform", `translate(0,${yb})`)
        .call(d3.axisBottom(x).tickValues(ticks.map(parse)).tickFormat(d3.timeFormat("%b") as any)
          .tickSize(6).tickPadding(pad).tickSizeOuter(0));
      gx.attr("font-family", FONT).attr("font-size", 21);
      gx.select(".domain").attr("stroke", "#111").attr("stroke-width", 2);
      gx.selectAll(".tick line").attr("stroke", "#111").attr("stroke-width", 1.5);
      gx.selectAll(".tick text").attr("fill", "#1a1a1a");

      const gy = svg.append("g")
        .attr("transform", "translate(92,0)")
        .call(d3.axisLeft(y).tickValues(decadeTicks).tickFormat(() => "").tickSize(6).tickPadding(3).tickSizeOuter(0));
      gy.attr("font-family", FONT).attr("font-size", 20);
      gy.select(".domain").attr("stroke", "#111").attr("stroke-width", 2);
      gy.selectAll(".tick line").attr("stroke", "#111").attr("stroke-width", 1.5);
      gy.selectAll<SVGTextElement, number>(".tick text").each(function (d) {
        const t = d3.select(this).attr("fill", "#1a1a1a");
        t.append("tspan").text("10");
        t.append("tspan").attr("dy", "-0.55em").attr("font-size", 13).text(String(Math.round(Math.log10(d))));
      });

      years.forEach(([label, date]) => {
        svg.append("text")
          .attr("x", x(parse(date)))
          .attr("y", yearY)
          .attr("text-anchor", "middle")
          .attr("font-size", 28)
          .attr("fill", "#1a1a1a")
          .text(label);
      });
    };

    const drawControls = (y: any, c: { minPositive: number; maxNaive: number }) => {
      [[c.minPositive, PINK], [c.maxNaive, SLATE]].forEach(([v, col]) => {
        svg.append("line")
          .attr("x1", 92).attr("x2", 1283)
          .attr("y1", y(v as number)).attr("y2", y(v as number))
          .attr("stroke", col as string).attr("stroke-width", 1.6)
          .attr("stroke-dasharray", DASH);
      });
    };

    // ---------- Panel A ----------
    drawAxes(xA, yA, monthTicksA, yearLabelsA, 8, 472);
    drawControls(yA, controlA);

    const thaiPts = thaiDates.flatMap((d, i) => thaiMFI[i].map((v) => ({ date: parse(d), v })));
    svg.append("g")
      .selectAll("circle")
      .data(thaiPts)
      .join("circle")
      .attr("cx", (d) => xA(d.date))
      .attr("cy", (d) => yA(d.v))
      .attr("r", 3.3)
      .attr("fill", colorOf.Thailand)
      .attr("fill-opacity", ALPHA);

    // ---------- Panel B ----------
    drawAxes(xB, yB, ticksB, yearLabelsB, 6, 900);
    drawControls(yB, controlB);

    const shapeOf: Record<string, [d3.SymbolType, number]> = {
      pos: [d3.symbolCircle, 34],
      neg: [d3.symbolTriangle, 40],
      unk: [d3.symbolSquare, 36],
    };
    const seriesB: { country: string; status: string; data: Pt[] }[] = [
      { country: "Uganda", status: "pos", data: ugandaHivPos },
      { country: "Uganda", status: "neg", data: ugandaHivNeg },
      { country: "Tanzania", status: "pos", data: tanzaniaHivPos },
      { country: "Tanzania", status: "neg", data: tanzaniaHivNeg },
      { country: "Nigeria", status: "pos", data: nigeriaHivPos },
      { country: "Nigeria", status: "neg", data: nigeriaHivNeg },
      { country: "Nigeria", status: "unk", data: nigeriaUnknown },
      { country: "Kenya", status: "pos", data: kenyaHivPos },
      { country: "Kenya", status: "neg", data: kenyaHivNeg },
    ];
    const bPts = seriesB
      .flatMap((s) => s.data.map(([yr, v]) => ({ country: s.country, status: s.status, yr, v })))
      .sort((a, b) => a.yr - b.yr);

    svg.append("g")
      .selectAll("path")
      .data(bPts)
      .join("path")
      .attr("d", (d) => d3.symbol().type(shapeOf[d.status][0]).size(shapeOf[d.status][1])() as string)
      .attr("transform", (d) => `translate(${xB(fromYear(d.yr))},${yB(d.v)})`)
      .attr("fill", (d) => colorOf[d.country])
      .attr("fill-opacity", ALPHA);

    // ---------- Y titles and panel letters ----------
    [[225, "MFI"], [668, "MFI"]].forEach(([cy, t]) => {
      svg.append("text")
        .attr("transform", `translate(33,${cy}) rotate(-90)`)
        .attr("text-anchor", "middle")
        .attr("font-size", 26)
        .attr("fill", "#1a1a1a")
        .text(t as string);
    });
    [["A", 50], ["B", 497]].forEach(([t, y]) => {
      svg.append("text")
        .attr("x", 10).attr("y", y as number)
        .attr("font-family", "'Liberation Sans', Arial, sans-serif")
        .attr("font-size", 55).attr("font-weight", 700)
        .attr("fill", "#000")
        .text(t as string);
    });

    // ---------- Legend ----------
    const leg = svg.append("g").attr("font-size", 19).attr("fill", "#1a1a1a");
    leg.append("text").attr("x", 113).attr("y", 41).attr("font-size", 21).text("Country");
    countries.forEach((c, i) => {
      const gx = i < 3 ? 118 : 227;
      const gy = 59 + (i % 3) * 21;
      leg.append("circle").attr("cx", gx).attr("cy", gy).attr("r", 3.4)
        .attr("fill", colorOf[c]).attr("fill-opacity", 0.6);
      leg.append("text").attr("x", gx + 9).attr("y", gy + 7).text(c);
    });

    leg.append("text").attr("x", 368).attr("y", 41).attr("font-size", 21).text("HIV-1 status");
    const legShapes: [d3.SymbolType, number][] = [[d3.symbolCircle, 30], [d3.symbolTriangle, 34], [d3.symbolSquare, 30]];
    statuses.forEach((s, i) => {
      const gy = 59 + i * 21;
      leg.append("path")
        .attr("d", d3.symbol().type(legShapes[i][0]).size(legShapes[i][1])() as string)
        .attr("transform", `translate(373,${gy})`)
        .attr("fill", "#777");
      leg.append("text").attr("x", 386).attr("y", gy + 7).text(s);
    });

    controlLabels.forEach(([l1, l2], i) => {
      const gy = 51 + i * 49;
      leg.append("line")
        .attr("x1", 524).attr("x2", 553).attr("y1", gy).attr("y2", gy)
        .attr("stroke", i === 0 ? PINK : SLATE).attr("stroke-width", 1.6)
        .attr("stroke-dasharray", "7,2.5,2,2.5");
      leg.append("text").attr("x", 557).attr("y", gy + 7).text(l1);
      leg.append("text").attr("x", 557).attr("y", gy + 29).text(l2);
    });
  }, []);

  return <svg ref={svgRef} />;
}
